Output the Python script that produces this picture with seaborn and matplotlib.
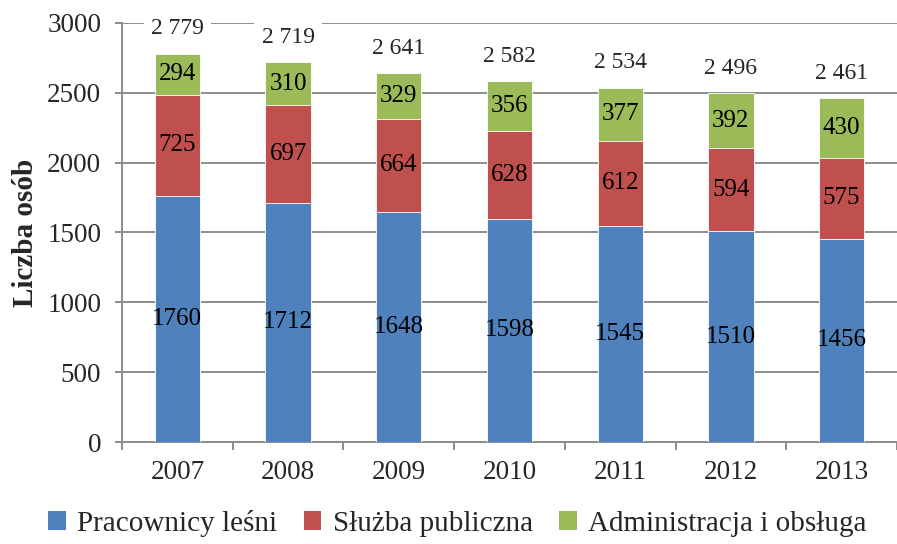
import pandas as pd
import numpy as np
import seaborn as sns
import matplotlib.pyplot as plt
from matplotlib.patches import Patch

years = ["2007", "2008", "2009", "2010", "2011", "2012", "2013"]
pracownicy = [1760, 1712, 1648, 1598, 1545, 1510, 1456]
sluzba = [725, 697, 664, 628, 612, 594, 575]
administracja = [294, 310, 329, 356, 377, 392, 430]
series_names = ["Pracownicy leśni", "Służba publiczna", "Administracja i obsługa"]
colors = ["#4F81BD", "#C0504D", "#9BBB59"]

df = pd.DataFrame({"rok": years, "p": pracownicy, "s": sluzba, "a": administracja})
df["ps"] = df["p"] + df["s"]
df["total"] = df["ps"] + df["a"]

sns.set_theme(style="white")
plt.rcParams["font.family"] = ["Liberation Serif", "DejaVu Serif"]
serif = "Liberation Serif"

fig = plt.figure(figsize=(8.97, 5.44), dpi=100)
ax = fig.add_axes([0.136, 0.1875, 0.864, 0.7705])

# stacked bars drawn back to front
bw = 0.41
sns.barplot(data=df, x="rok", y="total", color=colors[2], saturation=1, width=bw,
            edgecolor="white", linewidth=0.6, ax=ax, zorder=3)
sns.barplot(data=df, x="rok", y="ps", color=colors[1], saturation=1, width=bw,
            edgecolor="white", linewidth=0.6, ax=ax, zorder=3)
sns.barplot(data=df, x="rok", y="p", color=colors[0], saturation=1, width=bw,
            edgecolor="white", linewidth=0.6, ax=ax, zorder=3)

# segment labels centred in each segment
green_c, red_c, blue_c = ax.containers
for bars, vals, bottoms in [(blue_c, df["p"], np.zeros(len(df))),
                            (red_c, df["s"], df["p"].values),
                            (green_c, df["a"], df["ps"].values)]:
    for bar, v, b in zip(bars, vals, bottoms):
        ax.text(bar.get_x() + bar.get_width() / 2, b + v / 2, str(v),
                ha="center", va="center", fontsize=18, family=serif,
                color="black", zorder=5)

# totals above the bars
for i, t in enumerate(df["total"]):
    lab = f"{t:,}".replace(",", " ")
    ax.annotate(lab, (i, t), xytext=(0, 18), textcoords="offset points",
                ha="center", va="center", fontsize=17, family=serif, zorder=6,
                bbox=dict(boxstyle="square,pad=0.3", fc="white", ec="none"))

ax.set_ylim(0, 3000)
ax.set_xlim(-0.5, 6.5)
ax.set_yticks(range(0, 3001, 500))
ax.yaxis.grid(True, color="#8c8c8c", lw=1.4, zorder=0)
ax.set_axisbelow(True)
for s in ["top", "right"]:
    ax.spines[s].set_visible(False)
for s in ["left", "bottom"]:
    ax.spines[s].set_color("#8c8c8c")
    ax.spines[s].set_linewidth(1.4)

ax.tick_params(axis="y", which="major", length=5, width=1.4, color="#8c8c8c",
               labelsize=19.5, left=True, pad=10)
ax.set_xticks(np.arange(-0.5, 7, 1), minor=True)
ax.tick_params(axis="x", which="major", length=0, labelsize=19.5, pad=13)
ax.tick_params(axis="x", which="minor", length=6, width=1.4, color="#8c8c8c",
               bottom=True)
for lab in ax.get_xticklabels() + ax.get_yticklabels():
    lab.set_family(serif)
ax.set_xlabel("")
ax.set_ylabel("Liczba osób", fontsize=21, fontweight="bold", family=serif,
              labelpad=6)

handles = [Patch(facecolor=c, edgecolor="none") for c in colors]
fig.legend(handles, series_names, loc="lower center", bbox_to_anchor=(0.51, -0.035),
           ncol=3, frameon=False, prop={"family": serif, "size": 21},
           handlelength=0.6, handleheight=0.6, handletextpad=0.4,
           columnspacing=0.9)

fig.savefig("out.png", dpi=100)
